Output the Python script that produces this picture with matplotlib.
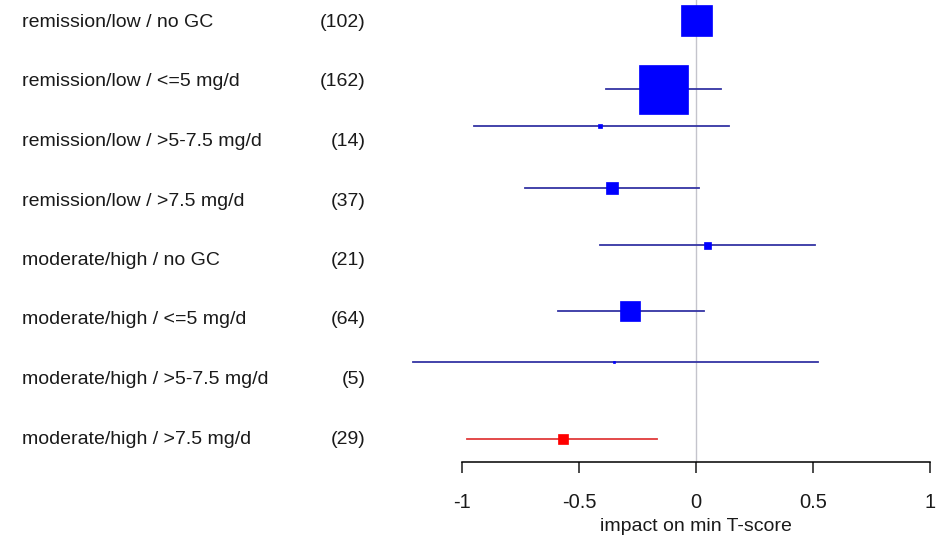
import numpy as np
import matplotlib
matplotlib.use('Agg')
import matplotlib.pyplot as plt

plt.rcParams['font.family'] = ['Liberation Sans', 'DejaVu Sans']

# ----------------------------- data -----------------------------
labels = ['remission/low / no GC', 'remission/low / <=5 mg/d', 'remission/low / >5-7.5 mg/d',
          'remission/low / >7.5 mg/d', 'moderate/high / no GC', 'moderate/high / <=5 mg/d',
          'moderate/high / >5-7.5 mg/d', 'moderate/high / >7.5 mg/d']
counts = [102, 162, 14, 37, 21, 64, 5, 29]
est = [0.002, -0.14, -0.41, -0.36, 0.045, -0.28, -0.35, -0.57]
lo = [-0.05, -0.386, -0.95, -0.73, -0.41, -0.59, -1.21, -0.98]
hi = [0.05, 0.105, 0.14, 0.013, 0.51, 0.035, 0.52, -0.165]
box_px = [31, 49, 5, 12, 7, 20, 2, 10]          # box side in pixels (weight)
highlight = [False]*7 + [True]
xticks = [-1, -0.5, 0, 0.5, 1]

# row layout (pixel units from top)
label_base = [27 + 59.5*i for i in range(len(labels))]
mark_y = [20, 89, 126, 188, 245, 311, 362, 439]

W, H, DPI = 953, 535, 100
fig = plt.figure(figsize=(W/DPI, H/DPI), dpi=DPI)
x0, x1, ybot = 462, 930, 462
ax = fig.add_axes([x0/W, (H-ybot)/H, (x1-x0)/W, ybot/H])
ax.set_xlim(-1, 1); ax.set_ylim(ybot, 0)

def px2x(p):
    return (p - x0)/(x1 - x0)*2 - 1

ax.axvline(0, color='#c4c4cc', lw=1, zorder=1)
for i in range(len(labels)):
    lc = '#e03a3a' if highlight[i] else '#3434a4'
    fc = '#ff0000' if highlight[i] else '#0000ff'
    ax.plot([lo[i], hi[i]], [mark_y[i]]*2, color=lc, lw=1.3, zorder=2, clip_on=False)
    ax.plot(est[i], mark_y[i], marker='s', ms=box_px[i]*0.72, color=fc, mec=fc, mew=0.5, zorder=3, clip_on=False)
    ax.text(px2x(22), label_base[i], labels[i], ha='left', va='baseline', fontsize=14, color='#1a1a1a')
    ax.text(px2x(366), label_base[i], f'({counts[i]})', ha='right', va='baseline', fontsize=14, color='#1a1a1a')

for s in ['top', 'right', 'left']:
    ax.spines[s].set_visible(False)
ax.spines['bottom'].set_bounds(-1, 1)
ax.spines['bottom'].set_linewidth(1.1)
ax.set_yticks([])
ax.set_xticks(xticks)
ax.set_xticklabels(['-1', '-0.5', '0', '0.5', '1'])
ax.tick_params(axis='x', length=8, width=1.1, pad=14, labelsize=14.5, colors='#1a1a1a')
fig.text((x0 + (x1-x0)/2)/W, (H-531)/H, 'impact on min T-score', ha='center', va='baseline',
         fontsize=14, color='#1a1a1a')

fig.savefig('out.png', dpi=DPI)
